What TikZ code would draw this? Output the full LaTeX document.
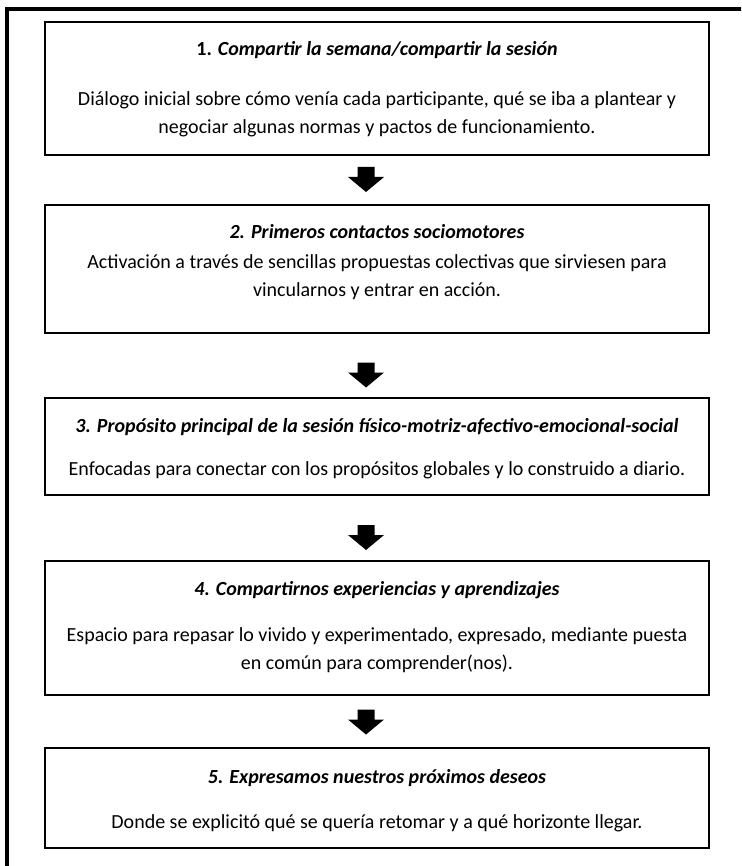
\documentclass[tikz,border=0pt]{standalone}
\usepackage{fontspec}
\setmainfont{Carlito}

\newcommand{\stagefont}{\fontsize{20}{28}\selectfont}

\tikzset{
  stagebox/.style={draw, line width=2pt, minimum width=664pt, inner sep=0pt},
  stagetitle/.style={font=\stagefont\bfseries\itshape, inner sep=0pt},
  stagetext/.style={font=\stagefont, align=center, inner sep=0pt},
  downarrow/.pic={
    \fill (-8.5,-12.5) -- (8.5,-12.5) -- (8.5,-2.5) -- (18,-2.5) -- (0,12.5)
      -- (-18,-2.5) -- (-8.5,-2.5) -- cycle;
  }
}

\begin{document}
\begin{tikzpicture}[x=1pt, y=-1pt]
  \useasboundingbox (0,0) rectangle (741,866);
  \clip (0,0) rectangle (741,866);
  % outer frame, cut by the page on the right and at the bottom
  \draw[line width=4pt] (7,9) rectangle (780,900);

  % stages
  \node[stagebox, minimum height=133pt] (b1) at (377,88.5) {};
  \node[stagetitle] (t1) at (377,50) {\upshape 1. \itshape Compartir la semana/compartir la sesión};
  \node[stagetext] (d1) at (377,114) {Diálogo inicial sobre cómo venía cada participante, qué se iba a plantear y\\
    negociar algunas normas y pactos de funcionamiento.};

  \node[stagebox, minimum height=128pt] (b2) at (377,269) {};
  \node[stagetitle] (t2) at (377,232) {2. Primeros contactos sociomotores};
  \node[stagetext] (d2) at (377,277) {Activación a través de sencillas propuestas colectivas que sirviesen para\\
    vincularnos y entrar en acción.};

  \node[stagebox, minimum height=97pt] (b3) at (377,446.5) {};
  \node[stagetitle] (t3) at (377,427) {3. Propósito principal de la sesión físico-motriz-afectivo-emocional-social};
  \node[stagetext] (d3) at (377,470) {Enfocadas para conectar con los propósitos globales y lo construido a diario.};

  \node[stagebox, minimum height=134pt] (b4) at (377,628) {};
  \node[stagetitle] (t4) at (377,590) {4. Compartirnos experiencias y aprendizajes};
  \node[stagetext] (d4) at (377,650) {Espacio para repasar lo vivido y experimentado, expresado, mediante puesta\\
    en común para comprender(nos).};

  \node[stagebox, minimum height=100pt] (b5) at (377,798) {};
  \node[stagetitle] (t5) at (377,778) {5. Expresamos nuestros próximos deseos};
  \node[stagetext] (d5) at (377,823) {Donde se explicitó qué se quería retomar y a qué horizonte llegar.};

  % arrows between the stages
  \coordinate (a1) at (366,179.5);
  \coordinate (a2) at (366,375);
  \coordinate (a3) at (366,537.5);
  \coordinate (a4) at (366,722);
  \foreach \a in {a1,a2,a3,a4}
    \pic at (\a) {downarrow};
\end{tikzpicture}
\end{document}
